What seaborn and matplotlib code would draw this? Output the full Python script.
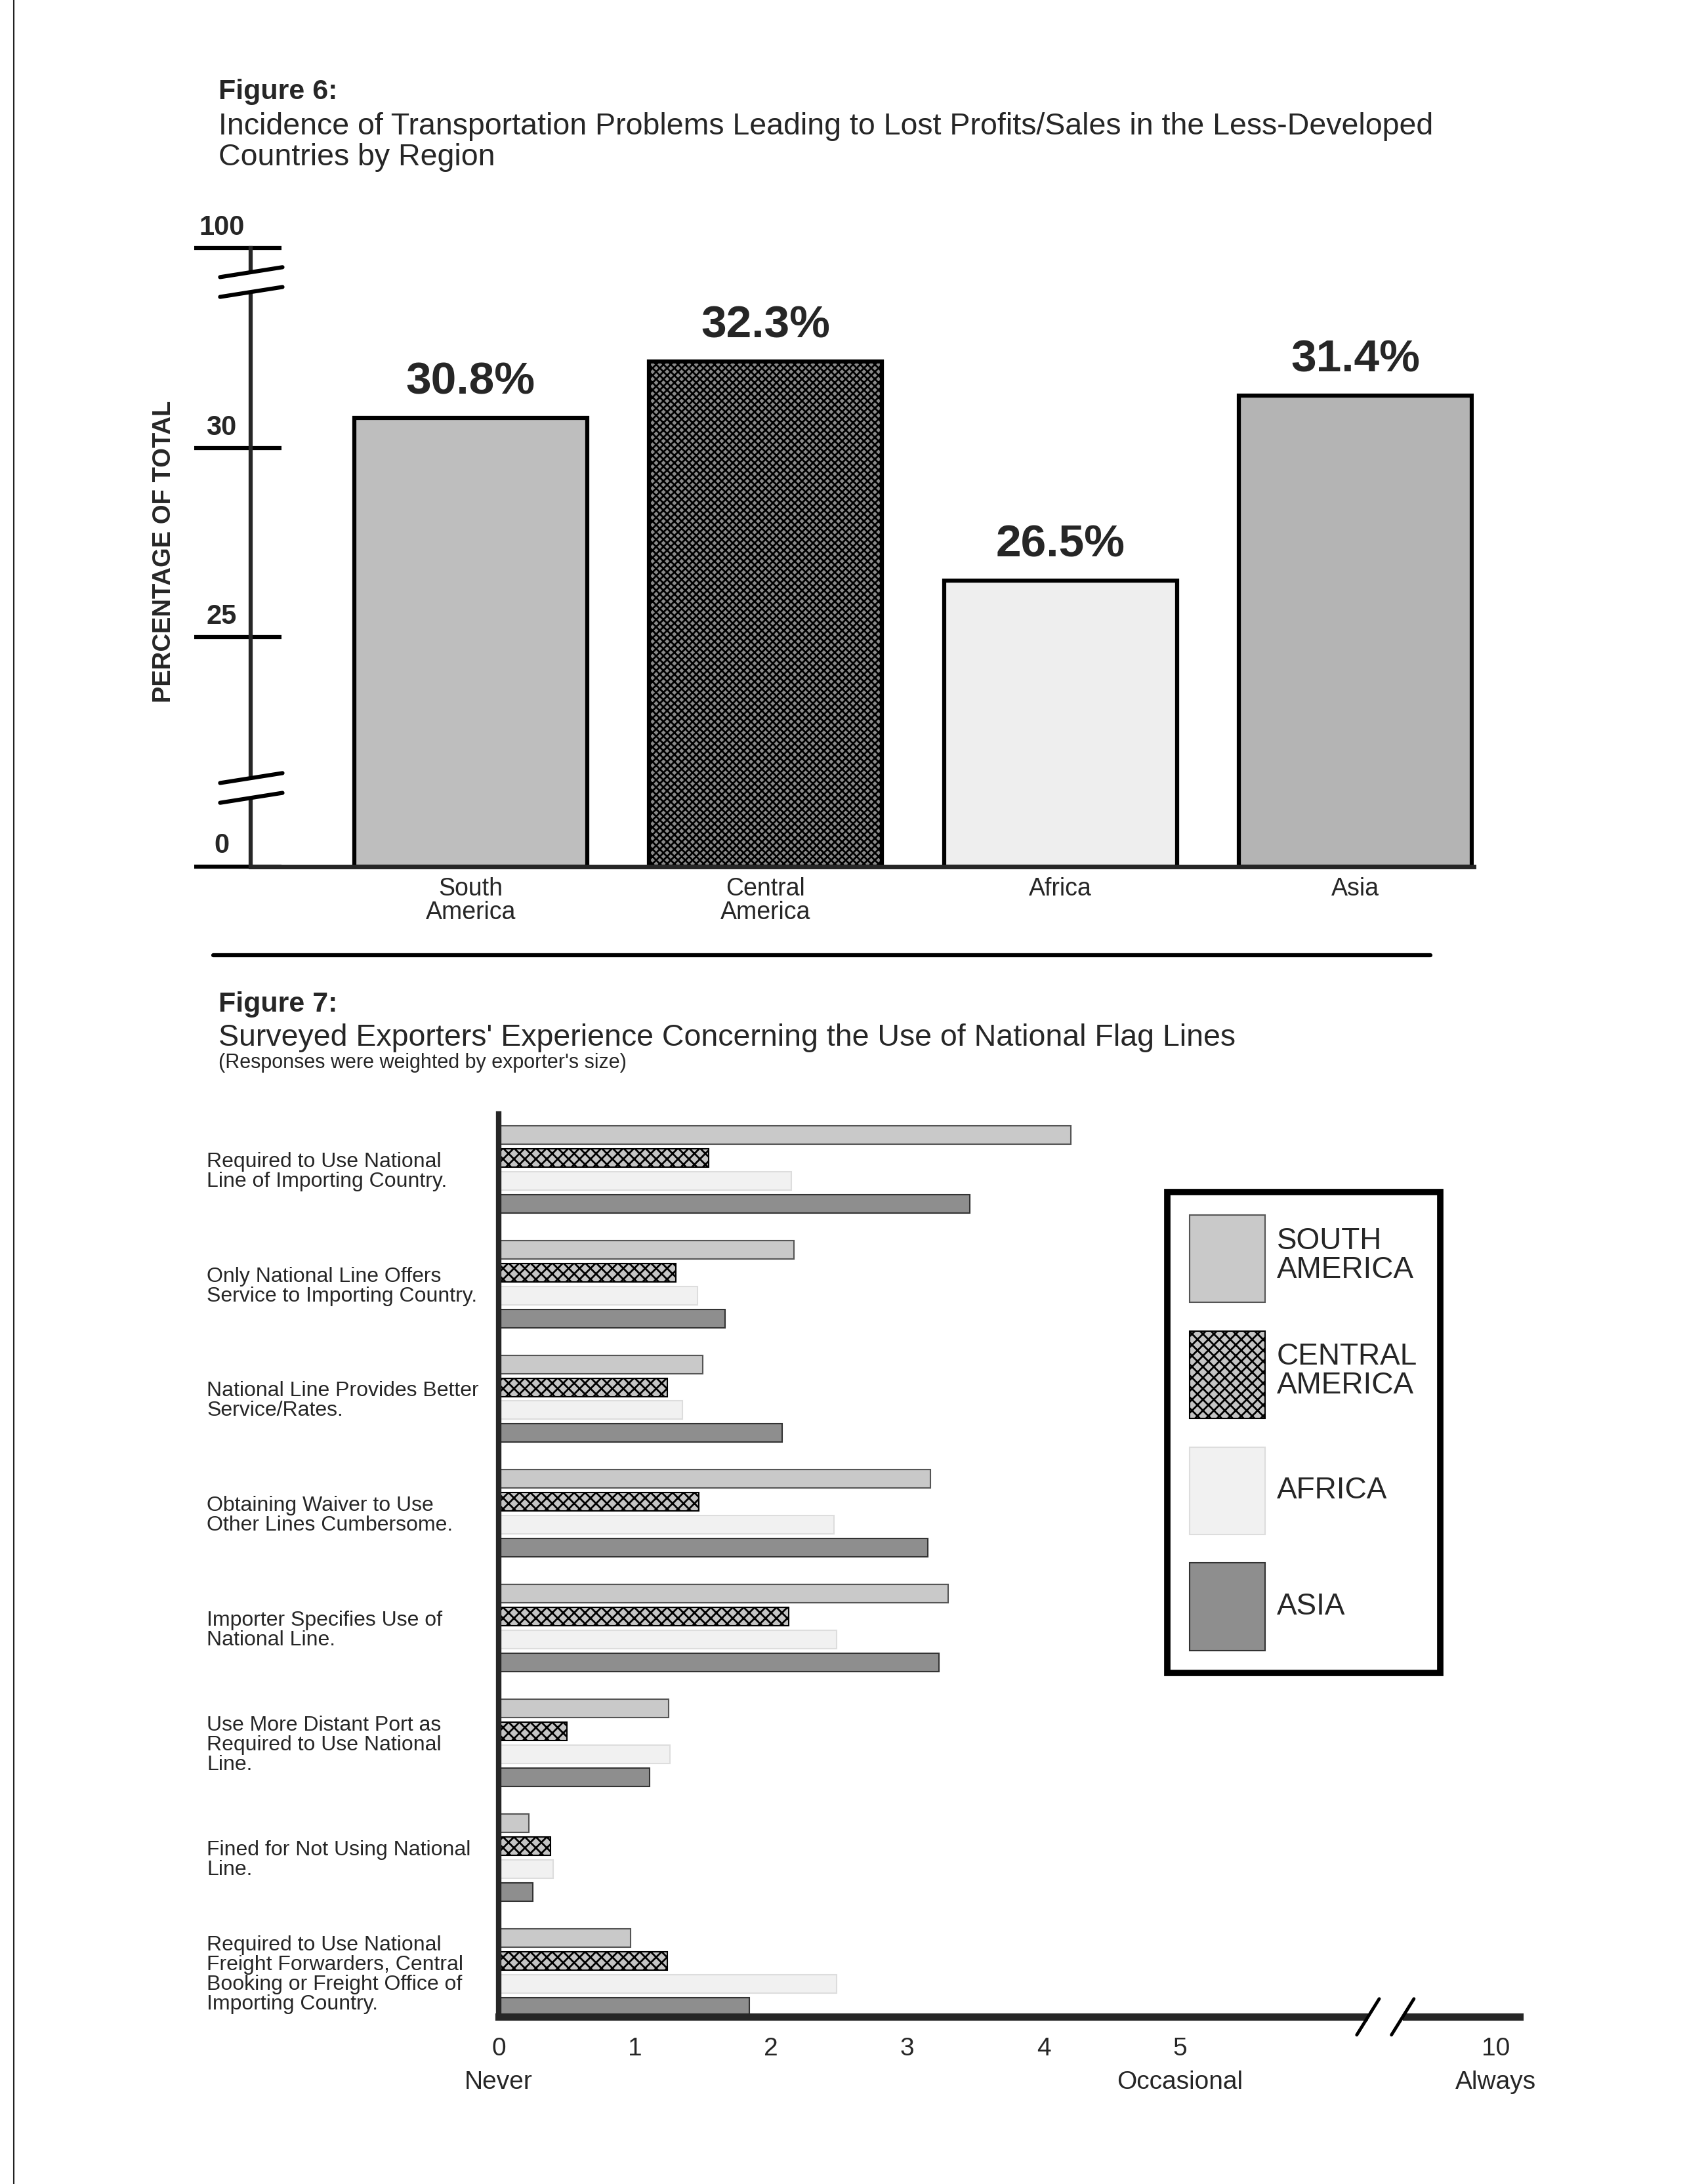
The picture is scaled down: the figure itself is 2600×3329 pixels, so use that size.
import numpy as np
import pandas as pd
import matplotlib
matplotlib.use("Agg")
import matplotlib.pyplot as plt
from matplotlib.lines import Line2D
from matplotlib.patches import Rectangle
from matplotlib.ticker import FixedLocator
import seaborn as sns

# Figure 6 data
regions6 = ["South\nAmerica", "Central\nAmerica", "Africa", "Asia"]
pct6 = [30.8, 32.3, 26.5, 31.4]
yticks6 = [0, 25, 30, 100]

# Figure 7 data
items7 = [
    "Required to Use National\nLine of Importing Country.",
    "Only National Line Offers\nService to Importing Country.",
    "National Line Provides Better\nService/Rates.",
    "Obtaining Waiver to Use\nOther Lines Cumbersome.",
    "Importer Specifies Use of\nNational Line.",
    "Use More Distant Port as\nRequired to Use National\nLine.",
    "Fined for Not Using National\nLine.",
    "Required to Use National\nFreight Forwarders, Central\nBooking or Freight Office of\nImporting Country.",
]
regions7 = ["SOUTH\nAMERICA", "CENTRAL\nAMERICA", "AFRICA", "ASIA"]
sa_scores = [4.20, 2.17, 1.50, 3.17, 3.30, 1.25, 0.22, 0.97]
ca_scores = [1.54, 1.30, 1.24, 1.47, 2.13, 0.50, 0.38, 1.24]
af_scores = [2.15, 1.46, 1.35, 2.46, 2.48, 1.26, 0.40, 2.48]
as_scores = [3.46, 1.66, 2.08, 3.15, 3.23, 1.11, 0.25, 1.84]
xticks7 = [0, 1, 2, 3, 4, 5, 10]
xticklabels7 = ["0\nNever", "1", "2", "3", "4", "5\nOccasional", "10\nAlways"]

sns.set_style("white")
plt.rcParams["font.family"] = ["Liberation Sans", "DejaVu Sans"]
plt.rcParams["hatch.linewidth"] = 2.0

W, H = 1225, 1568  # layout measured on the reference at this scale
fig = plt.figure(figsize=(26, 33.29), dpi=100)

# page titles
fx = 157 / W
fig.text(fx, 1 - 66 / H, "Figure 6:", fontsize=31, fontweight="bold", va="center")
fig.text(fx, 1 - 91 / H, "Incidence of Transportation Problems Leading to Lost Profits/Sales in the Less-Developed",
         fontsize=33.5, va="center")
fig.text(fx, 1 - 113 / H, "Countries by Region", fontsize=33.5, va="center")
fig.text(fx, 1 - 721 / H, "Figure 7:", fontsize=31, fontweight="bold", va="center")
fig.text(fx, 1 - 745 / H, "Surveyed Exporters' Experience Concerning the Use of National Flag Lines",
         fontsize=33.5, va="center")
fig.text(fx, 1 - 763 / H, "(Responses were weighted by exporter's size)", fontsize=22, va="center")

fig.add_artist(Line2D([153 / W, 1027 / W], [1 - 686 / H] * 2, lw=4.5, color="black"))
fig.add_artist(Line2D([10 / W, 10 / W], [0, 1], lw=1.5, color="#222222"))

# ---------------- Figure 6 ----------------
ax1 = fig.add_axes([180 / W, 1 - 622 / H, 878 / W, 444 / H])
colors6 = ["#bebebe", "#8a8a8a", "#eeeeee", "#b4b4b4"]
hatches6 = ["", "xxx", "", ""]
sns.barplot(x=regions6, y=pct6, hue=regions6, palette=colors6, saturation=1, legend=False,
            width=0.79, edgecolor="black", linewidth=4.5, ax=ax1)
for cont, h in zip(ax1.containers, hatches6):
    for p in cont:
        p.set_hatch(h)

# broken y axis: 0..21 and 34.4..100 compressed
brk_v = [0, 21, 34.4, 100]
brk_p = [0, 56.3, 419.5, 444]
ax1.set_yscale("function", functions=(lambda v: np.interp(v, brk_v, brk_p),
                                      lambda p: np.interp(p, brk_p, brk_v)))
ax1.set_ylim(0, 100)
ax1.set_xlim(-0.746, 3.40)

for cont, v in zip(ax1.containers, pct6):
    ax1.bar_label(cont, labels=[f"{v}%"], padding=16, fontsize=50, fontweight="bold")

for s in ["top", "right"]:
    ax1.spines[s].set_visible(False)
ax1.spines["left"].set_linewidth(4.5)
ax1.spines["bottom"].set_linewidth(5)
ax1.set_yticks(yticks6)
ax1.set_yticklabels([])
ax1.yaxis.set_minor_locator(FixedLocator(yticks6))
ax1.yaxis.remove_overlapping_locs = False
ax1.tick_params(axis="y", which="major", direction="out", length=62, width=4.5, color="black", left=True)
ax1.tick_params(axis="y", which="minor", direction="in", length=34, width=4.5, color="black", left=True)
ax1.tick_params(axis="x", length=0, pad=12, labelsize=27)
for lab in ax1.get_xticklabels():
    lab.set_linespacing(1.0)
ytr = ax1.get_yaxis_transform()
for v in yticks6:
    ax1.annotate(str(v), xy=(0, v), xycoords=ytr, xytext=(-32, 8), textcoords="offset points",
                 ha="center", va="bottom", fontsize=30, fontweight="bold", annotation_clip=False)
fig.text(118 / W, 1 - 396 / H, "PERCENTAGE OF TOTAL", rotation=90, fontsize=27.5,
         fontweight="bold", ha="center", va="center")

# break marks on the y axis
for v in [21, 34.4]:
    yc = np.interp(v, brk_v, brk_p) / 444
    ax1.add_patch(Rectangle((-0.008, yc - 0.016), 0.016, 0.032, transform=ax1.transAxes,
                            facecolor="white", edgecolor="none", clip_on=False, zorder=5))
    for off in [-0.016, 0.016]:
        ax1.add_line(Line2D([-0.025, 0.026], [yc + off - 0.008, yc + off + 0.008],
                            transform=ax1.transAxes, color="black", lw=4.5, clip_on=False, zorder=6))

# ---------------- Figure 7 ----------------
rows = []
for region, scores in zip(regions7, [sa_scores, ca_scores, af_scores, as_scores]):
    for item, s in zip(items7, scores):
        rows.append({"item": item, "score": s, "region": region})
df7 = pd.DataFrame(rows)

ax2 = fig.add_axes([358 / W, 1 - 1448 / H, 733 / W, 648 / H])
colors7 = ["#c9c9c9", "#c4c4c4", "#f1f1f1", "#8e8e8e"]
edges7 = ["#555555", "black", "#dddddd", "#333333"]
hatches7 = ["", "xx", "", ""]
sns.barplot(data=df7, x="score", y="item", hue="region", orient="h", palette=colors7,
            saturation=1, gap=0.2, errorbar=None, legend=False, ax=ax2)
for cont, ec, h in zip(ax2.containers, edges7, hatches7):
    for p in cont:
        p.set_edgecolor(ec)
        p.set_hatch(h)
        p.set_linewidth(1.5)

brk7_v = [0, 5, 10, 20]
brk7_p = [0, 5, 7.32, 11.96]
ax2.set_xscale("function", functions=(lambda v: np.interp(v, brk7_v, brk7_p),
                                      lambda p: np.interp(p, brk7_p, brk7_v)))
ax2.set_xlim(0, 10.37)
ax2.set_ylim(7.39, -0.48)
ax2.set_xticks(xticks7)
ax2.set_xticklabels(xticklabels7)
ax2.set_xlabel("")
ax2.set_ylabel("")
ax2.tick_params(axis="x", length=0, pad=22, labelsize=28)
for lab in ax2.get_xticklabels():
    lab.set_linespacing(1.55)
ax2.tick_params(axis="y", length=0, pad=320, labelsize=23)
for lab in ax2.get_yticklabels():
    lab.set_horizontalalignment("left")
    lab.set_linespacing(1.0)
for s in ["top", "right"]:
    ax2.spines[s].set_visible(False)
ax2.spines["left"].set_linewidth(6)
ax2.spines["bottom"].set_linewidth(8)

# break mark on the x axis
xb = ax2.transAxes.inverted().transform(ax2.transData.transform((8.25, 0)))[0]
ax2.add_patch(Rectangle((xb - 0.017, -0.008), 0.034, 0.016, transform=ax2.transAxes,
                        facecolor="white", edgecolor="none", clip_on=False, zorder=5))
for off in [-0.017, 0.017]:
    ax2.add_line(Line2D([xb + off - 0.011, xb + off + 0.011], [-0.02, 0.02],
                        transform=ax2.transAxes, color="black", lw=3.5, clip_on=False, zorder=6))

handles = [c.patches[0] for c in ax2.containers]
leg = ax2.legend(handles, regions7, loc="upper left", bbox_to_anchor=(838 / W, 1 - 856 / H),
                 bbox_transform=fig.transFigure, frameon=True, fancybox=False, fontsize=33,
                 handlelength=2.5, handleheight=4.1, labelspacing=0.95, handletextpad=0.4,
                 borderpad=0.75, borderaxespad=0, edgecolor="black", framealpha=1)
leg.get_frame().set_linewidth(7)
for t in leg.get_texts():
    t.set_linespacing(1.0)

fig.savefig("out.png", dpi=100)
